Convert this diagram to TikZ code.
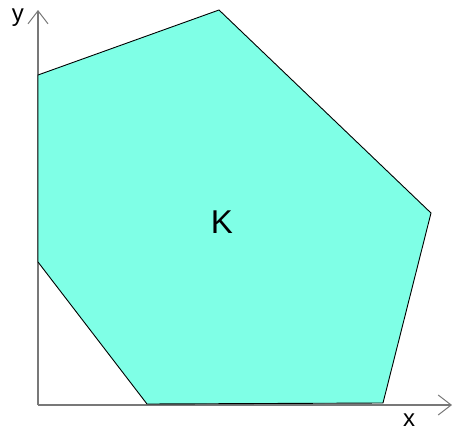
\documentclass[tikz,border=0pt]{standalone}
\usepackage{fontspec}
\setmainfont{Liberation Sans}
\usetikzlibrary{arrows.meta}
\definecolor{kfill}{RGB}{127,255,230}
\definecolor{axisgray}{RGB}{120,120,120}
\tikzset{
  axisline/.style={draw=axisgray, line width=1.3pt, -{Straight Barb[length=13pt,width=20pt,line width=1pt]}},
  region/.style={fill=kfill, draw=black, line width=0.9pt, line join=miter},
  lbl/.style={inner sep=0pt, font=\fontsize{24}{26}\selectfont}
}
\begin{document}
\begin{tikzpicture}[x=1pt,y=-1pt]
\useasboundingbox (0,0) rectangle (453,431);
\coordinate (o) at (38,405);
\coordinate (ytip) at (38,10);
\coordinate (xtip) at (452,405);
\draw[axisline] (o) -- (ytip);
\draw[axisline] (o) -- (xtip);
\coordinate (p1) at (38,75);
\coordinate (p2) at (219,10);
\coordinate (p3) at (431,213);
\coordinate (p4) at (383,403);
\coordinate (p5) at (147,404);
\coordinate (p6) at (38,262);
\path[region] (p1) -- (p2) -- (p3) -- (p4) -- (p5) -- (p6) -- cycle;
\node[lbl, font=\fontsize{33}{36}\selectfont] (k) at (222,222) {K};
\node[lbl] (ylab) at (18,18) {y};
\node[lbl] (xlab) at (409,420) {x};
\end{tikzpicture}
\end{document}
